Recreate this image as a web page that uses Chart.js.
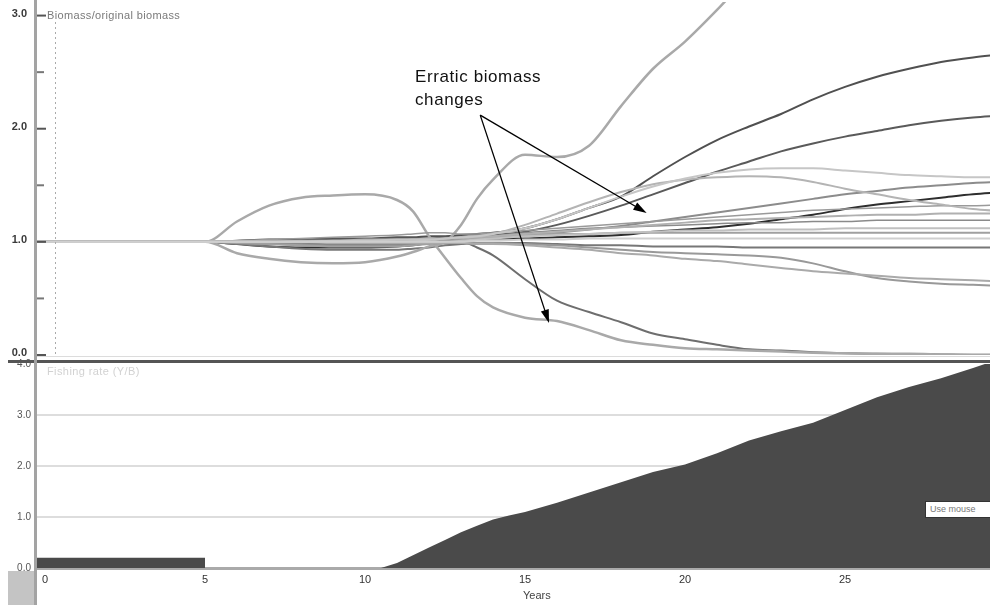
<!DOCTYPE html>
<html>
<head>
<meta charset="utf-8">
<script src="https://cdn.jsdelivr.net/npm/chart.js@4/dist/chart.umd.min.js"></script>
<style>
  body { margin: 0; background: #fff; }
  #wrap { position: relative; width: 990px; height: 605px; overflow: hidden; font-family: "Liberation Sans", Arial, sans-serif; }
  canvas { position: absolute; left: 0; top: 0; }
  .txt { position: absolute; white-space: nowrap; }
</style>
</head>
<body>
<div id="wrap">
  <canvas id="bio" width="990" height="605"></canvas>
  <canvas id="fish" width="990" height="605"></canvas>
  <div class="txt" style="left:47px;top:9px;font-size:11px;letter-spacing:0.35px;color:#7a7a7a;">Biomass/original biomass</div>
  <div class="txt" style="left:47px;top:365px;font-size:11px;letter-spacing:0.4px;color:#d2d2d2;">Fishing rate (Y/B)</div>
  <div class="txt" style="left:415px;top:65px;font-size:17px;line-height:23px;letter-spacing:0.6px;color:#111;">Erratic biomass<br>changes</div>
  <div class="txt" style="left:523px;top:589px;font-size:11px;color:#444;">Years</div>
  <div class="txt" style="left:925px;top:501px;width:70px;height:15px;background:#fff;border:1px solid #333;font-size:9px;line-height:15px;color:#777;padding-left:4px;">Use mouse</div>
  <div style="position:absolute;left:37px;top:356px;width:953px;height:1px;background:#dcdcdc;"></div>
  <div style="position:absolute;left:8px;top:360px;width:982px;height:3px;background:#555;"></div>
  <div style="position:absolute;left:8px;top:571px;width:26px;height:34px;background:#c4c4c4;"></div>
  <div style="position:absolute;left:34px;top:0;width:3px;height:605px;background:#a3a3a3;"></div>
</div>
<script>
// time grid (years) shared by all biomass lines
const years = [-0.3, 5, 6, 7, 8, 9, 10, 11, 11.5, 12, 12.5, 13, 13.5, 14, 15, 16, 17, 18, 19, 20, 21, 22, 23, 24, 25, 26, 27, 28, 29, 30];

// biomass / original biomass, one array per group
const surgeUp   = [1, 1, 0.9, 0.85, 0.82, 0.81, 0.82, 0.87, 0.91, 0.96, 1.0, 1.15, 1.38, 1.55, 1.77, 1.75, 1.85, 2.2, 2.53, 2.77, 3.05, 3.35, 3.6, 3.8, 3.95, 4.1, 4.2, 4.3, 4.4, 4.5];
const collapse1 = [1, 1, 1.18, 1.32, 1.39, 1.41, 1.42, 1.37, 1.27, 1.05, 0.86, 0.68, 0.52, 0.42, 0.33, 0.3, 0.22, 0.13, 0.09, 0.06, 0.05, 0.04, 0.03, 0.02, 0.015, 0.01, 0.01, 0.005, 0, 0];
const collapse2 = [1, 1, 1, 0.99, 0.99, 0.98, 0.98, 0.99, 0.99, 1.0, 1.0, 1.0, 0.95, 0.88, 0.67, 0.48, 0.38, 0.29, 0.19, 0.14, 0.09, 0.05, 0.04, 0.025, 0.015, 0.01, 0.007, 0.005, 0.003, 0];
const riseHigh  = [1, 1, 1.01, 1.02, 1.02, 1.03, 1.03, 1.04, 1.04, 1.05, 1.05, 1.06, 1.07, 1.08, 1.12, 1.2, 1.3, 1.4, 1.58, 1.75, 1.9, 2.02, 2.13, 2.26, 2.37, 2.46, 2.53, 2.59, 2.63, 2.66];
const riseMid   = [1, 1, 1, 1.01, 1.01, 1.02, 1.02, 1.03, 1.03, 1.03, 1.04, 1.04, 1.05, 1.06, 1.09, 1.15, 1.23, 1.32, 1.42, 1.52, 1.62, 1.71, 1.8, 1.87, 1.93, 1.98, 2.03, 2.07, 2.1, 2.12];
const peakLight = [1, 1, 1, 1, 1, 1.01, 1.01, 1.02, 1.02, 1.02, 1.03, 1.04, 1.05, 1.07, 1.12, 1.2, 1.3, 1.4, 1.49, 1.56, 1.61, 1.64, 1.65, 1.65, 1.63, 1.61, 1.59, 1.58, 1.57, 1.57];
const turnLight = [1, 1, 1, 1, 1, 1, 1.01, 1.01, 1.02, 1.02, 1.03, 1.04, 1.05, 1.07, 1.15, 1.25, 1.35, 1.44, 1.51, 1.55, 1.57, 1.58, 1.57, 1.53, 1.47, 1.42, 1.37, 1.33, 1.29, 1.27];
const climbA    = [1, 1, 0.99, 0.98, 0.98, 0.97, 0.97, 0.98, 0.99, 1.0, 1.01, 1.02, 1.03, 1.04, 1.06, 1.08, 1.11, 1.14, 1.18, 1.22, 1.26, 1.3, 1.34, 1.38, 1.42, 1.45, 1.48, 1.5, 1.52, 1.53];
const climbB    = [1, 1, 0.98, 0.96, 0.95, 0.95, 0.95, 0.96, 0.97, 0.99, 1.01, 1.02, 1.03, 1.03, 1.03, 1.04, 1.05, 1.06, 1.09, 1.11, 1.13, 1.16, 1.2, 1.24, 1.29, 1.33, 1.36, 1.39, 1.42, 1.44];
const steady1   = [1, 1, 1.01, 1.02, 1.03, 1.04, 1.05, 1.06, 1.07, 1.08, 1.08, 1.07, 1.07, 1.08, 1.1, 1.12, 1.14, 1.16, 1.18, 1.2, 1.22, 1.24, 1.26, 1.28, 1.29, 1.3, 1.31, 1.32, 1.32, 1.33];
const steady2   = [1, 1, 1, 1, 1.01, 1.01, 1.02, 1.02, 1.02, 1.03, 1.03, 1.03, 1.04, 1.05, 1.07, 1.09, 1.11, 1.13, 1.15, 1.17, 1.19, 1.2, 1.21, 1.22, 1.23, 1.24, 1.24, 1.25, 1.25, 1.25];
const steady3   = [1, 1, 0.99, 0.98, 0.97, 0.97, 0.97, 0.97, 0.98, 0.99, 1.0, 1.01, 1.03, 1.05, 1.08, 1.1, 1.12, 1.13, 1.14, 1.15, 1.16, 1.17, 1.17, 1.18, 1.18, 1.19, 1.19, 1.19, 1.19, 1.19];
const steady4   = [1, 1, 1, 1, 1, 1, 1, 1, 1, 1, 1, 1.01, 1.02, 1.03, 1.05, 1.06, 1.07, 1.08, 1.09, 1.1, 1.1, 1.11, 1.11, 1.11, 1.12, 1.12, 1.12, 1.12, 1.12, 1.12];
const steady5   = [1, 1, 0.99, 0.98, 0.97, 0.96, 0.96, 0.96, 0.97, 0.98, 0.99, 1.0, 1.02, 1.04, 1.06, 1.07, 1.07, 1.08, 1.08, 1.08, 1.08, 1.08, 1.08, 1.08, 1.08, 1.08, 1.08, 1.08, 1.08, 1.08];
const steady6   = [1, 1, 1, 1, 1, 1, 1, 1, 1, 1, 1, 1, 1.01, 1.01, 1.02, 1.02, 1.03, 1.03, 1.03, 1.03, 1.03, 1.03, 1.03, 1.03, 1.03, 1.03, 1.03, 1.03, 1.03, 1.03];
const sag1      = [1, 1, 0.98, 0.96, 0.94, 0.93, 0.93, 0.93, 0.94, 0.95, 0.97, 0.98, 0.99, 0.99, 0.99, 0.98, 0.97, 0.97, 0.96, 0.96, 0.96, 0.95, 0.95, 0.95, 0.95, 0.95, 0.95, 0.95, 0.95, 0.95];
const fade1     = [1, 1, 1, 1, 1, 1, 1, 1, 1, 1, 1, 1, 0.99, 0.99, 0.98, 0.97, 0.95, 0.93, 0.91, 0.9, 0.89, 0.88, 0.86, 0.81, 0.74, 0.68, 0.65, 0.63, 0.62, 0.61];
const fade2     = [1, 1, 1, 1, 1, 0.99, 0.99, 0.99, 0.99, 0.99, 0.99, 0.99, 0.98, 0.98, 0.97, 0.95, 0.93, 0.9, 0.88, 0.85, 0.83, 0.8, 0.77, 0.74, 0.72, 0.7, 0.68, 0.67, 0.66, 0.65];

// fishing rate (Y/B)
const fishYears = [-0.3, 5, 5, 10.5, 11, 11.5, 12, 12.5, 13, 13.5, 14, 14.5, 15, 16, 17, 18, 19, 20, 21, 22, 23, 24, 25, 26, 27, 28, 29, 29.6];
const fishRate  = [0.2, 0.2, 0, 0, 0.1, 0.25, 0.4, 0.55, 0.7, 0.83, 0.95, 1.03, 1.1, 1.28, 1.48, 1.68, 1.88, 2.03, 2.25, 2.5, 2.68, 2.85, 3.1, 3.35, 3.55, 3.72, 3.92, 4.05];

const bioTicks = [0, 0.5, 1, 1.5, 2, 2.5, 3];
const fishTicks = [0, 1, 2, 3, 4];
const yearTicks = [0, 5, 10, 15, 20, 25];

const X_MIN = -0.25;
const X_MAX = 29.53;

// light lines first, dark ones on top
const biomassLines = [
  [steady6, '#cfcfcf', 2],
  [peakLight, '#c6c6c6', 2],
  [steady4, '#c0c0c0', 2],
  [turnLight, '#b4b4b4', 2],
  [steady2, '#b0b0b0', 2],
  [fade2, '#aaaaaa', 2],
  [steady5, '#a0a0a0', 2],
  [fade1, '#999999', 2],
  [steady1, '#9a9a9a', 1.5],
  [steady3, '#8a8a8a', 1.5],
  [climbA, '#8c8c8c', 2],
  [surgeUp, '#a9a9a9', 2.5],
  [collapse1, '#a9a9a9', 2.5],
  [sag1, '#777777', 2],
  [collapse2, '#6e6e6e', 2],
  [riseMid, '#5a5a5a', 2],
  [riseHigh, '#505050', 2],
  [climbB, '#2e2e2e', 2],
];

// keep the plot area where the layout padding puts it
function noLabelPadding(scale) {
  scale.paddingTop = 0;
  scale.paddingBottom = 0;
  scale.paddingLeft = 0;
  scale.paddingRight = 0;
}

const bioDecor = {
  id: 'bioDecor',
  afterDraw(chart) {
    const ctx = chart.ctx;
    const x = chart.scales.x;
    const y = chart.scales.y;
    ctx.save();
    // inner tick marks
    bioTicks.forEach(v => {
      const major = Number.isInteger(v);
      ctx.strokeStyle = major ? '#555' : '#777';
      ctx.lineWidth = 2;
      ctx.beginPath();
      ctx.moveTo(37, y.getPixelForValue(v));
      ctx.lineTo(major ? 46 : 44, y.getPixelForValue(v));
      ctx.stroke();
    });
    // dashed marker
    ctx.strokeStyle = '#aaa';
    ctx.lineWidth = 1;
    ctx.setLineDash([2, 3]);
    const mx = Math.round(x.getPixelForValue(0.3)) + 0.5;
    ctx.beginPath();
    ctx.moveTo(mx, 22);
    ctx.lineTo(mx, 356);
    ctx.stroke();
    ctx.setLineDash([]);
    // annotation arrows
    const from = [x.getPixelForValue(13.6), y.getPixelForValue(2.12)];
    const tips = [[18.8, 1.256], [15.75, 0.283]];
    ctx.strokeStyle = '#000';
    ctx.fillStyle = '#000';
    ctx.lineWidth = 1.3;
    tips.forEach(([tx, ty]) => {
      const px = x.getPixelForValue(tx);
      const py = y.getPixelForValue(ty);
      const a = Math.atan2(py - from[1], px - from[0]);
      const len = 14;
      ctx.beginPath();
      ctx.moveTo(from[0], from[1]);
      ctx.lineTo(px - Math.cos(a) * len * 0.8, py - Math.sin(a) * len * 0.8);
      ctx.stroke();
      ctx.beginPath();
      ctx.moveTo(px, py);
      ctx.lineTo(px - len * Math.cos(a - 0.3), py - len * Math.sin(a - 0.3));
      ctx.lineTo(px - len * Math.cos(a + 0.3), py - len * Math.sin(a + 0.3));
      ctx.closePath();
      ctx.fill();
    });
    ctx.restore();
  },
};

new Chart(document.getElementById('bio'), {
  type: 'line',
  data: {
    datasets: biomassLines.map(([vals, color, width]) => ({
      data: years.map((yr, i) => ({x: yr, y: vals[i]})),
      borderColor: color,
      borderWidth: width,
      pointRadius: 0,
      fill: false,
      cubicInterpolationMode: 'monotone',
    })),
  },
  options: {
    responsive: false,
    animation: false,
    layout: {
      padding: {top: 2, bottom: 250, left: 0, right: 0},
    },
    plugins: {
      legend: {display: false},
      tooltip: {enabled: false},
    },
    scales: {
      x: {
        type: 'linear',
        display: false,
        min: X_MIN,
        max: X_MAX,
      },
      y: {
        min: 0,
        max: 3.12,
        afterFit(scale) { scale.width = 37; noLabelPadding(scale); },
        afterBuildTicks(scale) { scale.ticks = bioTicks.map(v => ({value: v})); },
        grid: {display: false, drawTicks: false},
        border: {display: false},
        ticks: {
          padding: 10,
          labelOffset: -2,
          color: '#3a3a3a',
          font: {family: 'Liberation Sans', size: 11, weight: 'bold'},
          callback: v => Number.isInteger(v) ? v.toFixed(1) : '',
        },
      },
    },
  },
  plugins: [bioDecor],
});

new Chart(document.getElementById('fish'), {
  type: 'line',
  data: {
    datasets: [{
      data: fishYears.map((yr, i) => ({x: yr, y: fishRate[i]})),
      borderColor: '#4a4a4a',
      borderWidth: 0,
      backgroundColor: '#4a4a4a',
      fill: 'origin',
      pointRadius: 0,
      tension: 0,
    }],
  },
  options: {
    responsive: false,
    animation: false,
    layout: {
      padding: {top: 364, bottom: 0, left: 0, right: 0},
    },
    plugins: {
      legend: {display: false},
      tooltip: {enabled: false},
    },
    scales: {
      x: {
        type: 'linear',
        min: X_MIN,
        max: X_MAX,
        afterFit(scale) { scale.height = 37; noLabelPadding(scale); },
        afterBuildTicks(scale) { scale.ticks = yearTicks.map(v => ({value: v})); },
        grid: {display: false, drawTicks: false},
        border: {color: '#aaaaaa', width: 3},
        ticks: {
          padding: 5,
          maxRotation: 0,
          color: '#333',
          font: {family: 'Liberation Sans', size: 11},
        },
      },
      y: {
        min: 0,
        max: 4,
        z: 1,
        afterFit(scale) { scale.width = 37; noLabelPadding(scale); },
        afterBuildTicks(scale) { scale.ticks = fishTicks.map(v => ({value: v})); },
        grid: {
          drawTicks: false,
          lineWidth: 2,
          color: c => (c.tick && c.tick.value > 0 && c.tick.value < 4) ? 'rgba(170,170,170,0.4)' : 'rgba(0,0,0,0)',
        },
        border: {display: false},
        ticks: {
          padding: 6,
          color: '#555',
          font: {family: 'Liberation Sans', size: 10},
          callback: v => v.toFixed(1),
        },
      },
    },
  },
});
</script>
</body>
</html>
